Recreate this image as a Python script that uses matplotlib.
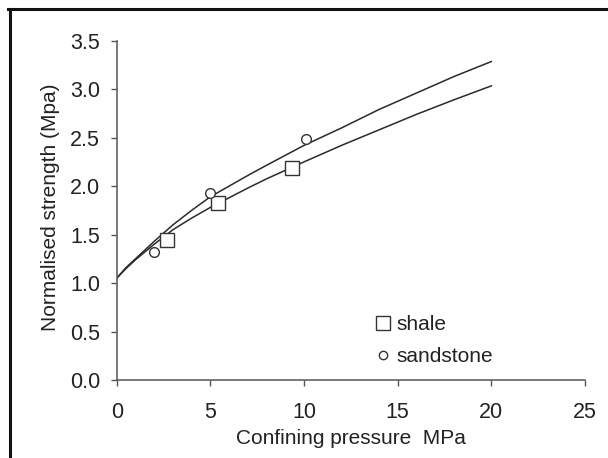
import matplotlib
matplotlib.use("Agg")
import matplotlib.pyplot as plt
from matplotlib.lines import Line2D

plt.rcParams['font.family'] = ['Liberation Sans', 'DejaVu Sans']

# Fitted curves
curve_x = [0, 0.5, 1, 1.5, 2, 3, 4, 5, 6, 7, 8, 10, 12, 14, 16, 18, 20]
sandstone_curve = [1.05, 1.16, 1.25, 1.34, 1.43, 1.60, 1.75, 1.89, 2.00, 2.11, 2.215,
                   2.42, 2.60, 2.79, 2.96, 3.13, 3.285]
shale_curve = [1.05, 1.15, 1.24, 1.32, 1.40, 1.55, 1.67, 1.78, 1.88, 1.98, 2.075,
               2.25, 2.42, 2.58, 2.74, 2.89, 3.034]

# Measured points
shale_x = [2.67, 5.42, 9.34]
shale_y = [1.445, 1.823, 2.185]
sandstone_x = [2.01, 4.99, 10.08]
sandstone_y = [1.318, 1.926, 2.487]

x_ticks = [0, 5, 10, 15, 20, 25]
y_ticks = [0.0, 0.5, 1.0, 1.5, 2.0, 2.5, 3.0, 3.5]

W, H = 608, 458
fig = plt.figure(figsize=(W / 100, H / 100), dpi=100)
ax = fig.add_axes([116.7 / W, 1 - 380 / H, (585 - 116.7) / W, (380 - 40.7) / H])

line_col = '#2a2a2a'
ax.plot(curve_x, sandstone_curve, color=line_col, lw=1.1, zorder=2)
ax.plot(curve_x, shale_curve, color=line_col, lw=1.1, zorder=2)
ax.plot(shale_x, shale_y, linestyle='none', marker='s', markersize=9.5,
        markerfacecolor='white', markeredgecolor='#333333', markeredgewidth=1.0, zorder=3)
ax.plot(sandstone_x, sandstone_y, linestyle='none', marker='o', markersize=7,
        markerfacecolor='white', markeredgecolor='#333333', markeredgewidth=1.0, zorder=3)

ax.set_xlim(0, 25)
ax.set_ylim(0, 3.5)
ax.set_xticks(x_ticks)
ax.set_xticklabels([str(v) for v in x_ticks])
ax.set_yticks(y_ticks)
ax.set_yticklabels([f"{v:.1f}" for v in y_ticks])

for s in ['top', 'right']:
    ax.spines[s].set_visible(False)
for s in ['left', 'bottom']:
    ax.spines[s].set_color('#555555')
    ax.spines[s].set_linewidth(1.1)

ax.tick_params(axis='both', direction='out', length=4.5, width=1.0, color='#555555',
               labelsize=15.5, labelcolor='#222222')
ax.tick_params(axis='x', pad=11)
ax.tick_params(axis='y', pad=7.5)

ax.set_xlabel('Confining pressure  MPa', fontsize=15, color='#222222')
ax.set_ylabel('Normalised strength (Mpa)', fontsize=15, color='#222222')
ax.xaxis.set_label_coords(0.5, -0.143)
ax.yaxis.set_label_coords(-0.121, 0.51)

handles = [
    Line2D([], [], linestyle='none', marker='s', markersize=9.5, markerfacecolor='white',
           markeredgecolor='#333333', markeredgewidth=1.0),
    Line2D([], [], linestyle='none', marker='o', markersize=6, markerfacecolor='white',
           markeredgecolor='#333333', markeredgewidth=1.0),
]
leg = ax.legend(handles, ['shale', 'sandstone'], loc='upper left',
                bbox_to_anchor=(0.533, 0.216), borderaxespad=0, frameon=False,
                fontsize=15, handlelength=0.8, handletextpad=0.25, labelspacing=0.62)
for t in leg.get_texts():
    t.set_color('#222222')

# Screenshot frame lines (top and left)
fig.add_artist(Line2D([8 / W, 1], [1 - 9 / H, 1 - 9 / H], color='#111111', lw=2.2,
                      transform=fig.transFigure))
fig.add_artist(Line2D([9.5 / W, 9.5 / W], [0, 1 - 9 / H], color='#111111', lw=2.2,
                      transform=fig.transFigure))

fig.savefig('out.png', dpi=100)
